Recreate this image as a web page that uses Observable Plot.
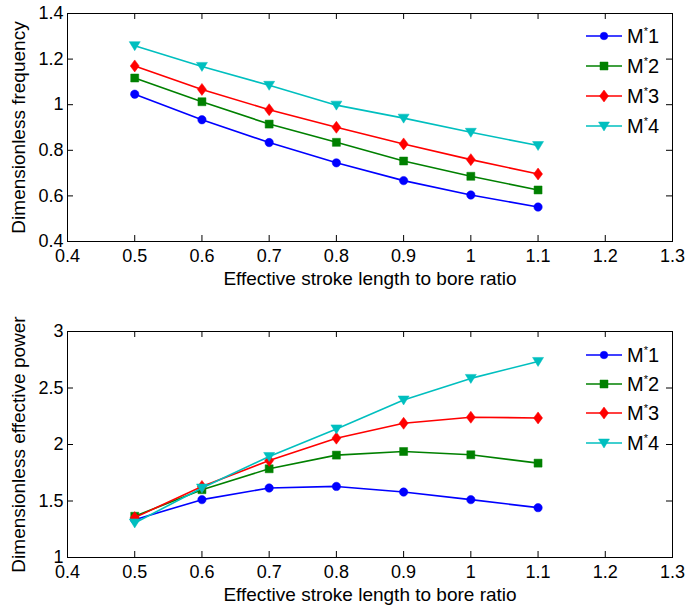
<!DOCTYPE html>
<html>
<head>
<meta charset="utf-8">
<script src="https://cdn.jsdelivr.net/npm/d3@7"></script>
<script src="https://cdn.jsdelivr.net/npm/@observablehq/plot@0.6"></script>
<style>
  html, body { margin: 0; padding: 0; background: #fff; }
  #chart { position: relative; width: 687px; height: 605px; font-family: "Liberation Sans", Arial, sans-serif; }
  #chart > svg.panel { position: absolute; left: 0; }
  .legend { position: absolute; left: 0; top: 0; pointer-events: none; }
</style>
</head>
<body>
<div id="chart"></div>
<script>
// ---- data ----
const xRatio = [0.5, 0.6, 0.7, 0.8, 0.9, 1.0, 1.1];
const seriesNames = ["1", "2", "3", "4"]; // shown as M*1 ... M*4
const freqM1 = [1.046, 0.934, 0.834, 0.745, 0.667, 0.604, 0.551];
const freqM2 = [1.117, 1.013, 0.915, 0.835, 0.753, 0.686, 0.626];
const freqM3 = [1.170, 1.067, 0.978, 0.901, 0.828, 0.759, 0.696];
const freqM4 = [1.259, 1.168, 1.085, 0.998, 0.941, 0.879, 0.821];
const powM1 = [1.335, 1.512, 1.615, 1.629, 1.579, 1.512, 1.441];
const powM2 = [1.365, 1.600, 1.785, 1.906, 1.938, 1.909, 1.835];
const powM3 = [1.353, 1.629, 1.859, 2.056, 2.188, 2.241, 2.235];
const powM4 = [1.306, 1.615, 1.894, 2.138, 2.394, 2.585, 2.735];
const xTicks = [0.4, 0.5, 0.6, 0.7, 0.8, 0.9, 1.0, 1.1, 1.2, 1.3];
const freqTicks = [0.4, 0.6, 0.8, 1.0, 1.2, 1.4];
const powTicks = [1, 1.5, 2, 2.5, 3];
const xLabel = "Effective stroke length to bore ratio";
const freqLabel = "Dimensionless frequency";
const powLabel = "Dimensionless effective power";

// ---- styles ----
const colors = ["#0000ff", "#008000", "#ff0000", "#00bfbf"];
const symSquare = { draw(c) { c.rect(-4, -4, 8, 8); } };
const symDiamond = { draw(c) { c.moveTo(0, -6); c.lineTo(4.5, 0); c.lineTo(0, 6); c.lineTo(-4.5, 0); c.closePath(); } };
const symTriDown = { draw(c) { c.moveTo(-5.5, -4); c.lineTo(5.5, -4); c.lineTo(0, 5); c.closePath(); } };
const symbols = ["circle", symSquare, symDiamond, symTriDown];
const fmt = d => String(+d.toFixed(2));
const W = 687, ML = 67, MR = 15;
const FONT = "'Liberation Sans', Arial, sans-serif";

function panel(seriesArrays, yDomain, yTicks, yLabel, height, mt, mb) {
  const plotH = height - mt - mb, plotW = W - ML - MR;
  const marks = [
    Plot.frame({ stroke: "black", strokeWidth: 1 }),
    Plot.tickX(xTicks, { x: d => d, insetTop: plotH - 6, stroke: "black" }),
    Plot.tickX(xTicks, { x: d => d, insetBottom: plotH - 6, stroke: "black" }),
    Plot.tickY(yTicks, { y: d => d, insetRight: plotW - 6, stroke: "black" }),
    Plot.tickY(yTicks, { y: d => d, insetLeft: plotW - 6, stroke: "black" }),
    Plot.axisX(xTicks, { tickSize: 0, tickPadding: 8, tickFormat: fmt, label: null, fontSize: 18 }),
    Plot.axisY(yTicks, { tickSize: 0, tickPadding: 4, tickFormat: fmt, label: null, fontSize: 18 }),
    Plot.text([xLabel], { frameAnchor: "bottom", dy: 37, text: d => d, fontSize: 19, textAnchor: "middle", lineAnchor: "middle" }),
    Plot.text([yLabel], { frameAnchor: "left", dx: -49, rotate: -90, text: d => d, fontSize: 19, textAnchor: "middle", lineAnchor: "middle" })
  ];
  seriesArrays.forEach((vals, i) => {
    const data = xRatio.map((x, j) => ({ x, y: vals[j] }));
    marks.push(Plot.line(data, { x: "x", y: "y", stroke: colors[i], strokeWidth: 1.6 }));
    marks.push(Plot.dot(data, { x: "x", y: "y", r: 4.2, symbol: symbols[i], fill: colors[i], stroke: colors[i], strokeWidth: 0.5 }));
  });
  return Plot.plot({
    width: W, height, marginLeft: ML, marginRight: MR, marginTop: mt, marginBottom: mb,
    x: { domain: [0.4, 1.3] },
    y: { domain: yDomain },
    style: { fontFamily: FONT, background: "white", color: "black", overflow: "visible" },
    marks
  });
}

function legend(rowYs) {
  const svg = d3.create("svg").attr("class", "legend").attr("width", W).attr("height", 605);
  seriesNames.forEach((n, i) => {
    const g = svg.append("g").attr("transform", `translate(0,${rowYs[i]})`);
    g.append("line").attr("x1", 586).attr("x2", 622).attr("y1", 0).attr("y2", 0)
      .attr("stroke", colors[i]).attr("stroke-width", 1.6);
    const sym = typeof symbols[i] === "string" ? d3.symbolCircle : symbols[i];
    const size = typeof symbols[i] === "string" ? Math.PI * 3.8 * 3.8 : 64;
    g.append("path").attr("d", d3.symbol(sym, size)()).attr("transform", "translate(604,0)")
      .attr("fill", colors[i]).attr("stroke", colors[i]).attr("stroke-width", 0.5);
    const t = g.append("text").attr("x", 627).attr("y", 0).attr("dy", "0.36em")
      .attr("font-size", 20).attr("font-family", FONT).attr("fill", "black");
    t.append("tspan").text("M");
    t.append("tspan").attr("dy", -8).attr("font-size", 11).text("*");
    t.append("tspan").attr("dy", 8).text(n);
  });
  return svg.node();
}

const chart = document.getElementById("chart");
const top1 = panel([freqM1, freqM2, freqM3, freqM4], [0.4, 1.4], freqTicks, freqLabel, 300, 13, 59);
top1.classList.add("panel"); top1.style.top = "0px";
const bot = panel([powM1, powM2, powM3, powM4], [1, 3], powTicks, powLabel, 305, 31, 48);
bot.classList.add("panel"); bot.style.top = "300px";
chart.appendChild(top1);
chart.appendChild(bot);
chart.appendChild(legend([36, 66, 96, 126]));
chart.appendChild(legend([355, 384, 413, 443]));
</script>
</body>
</html>
